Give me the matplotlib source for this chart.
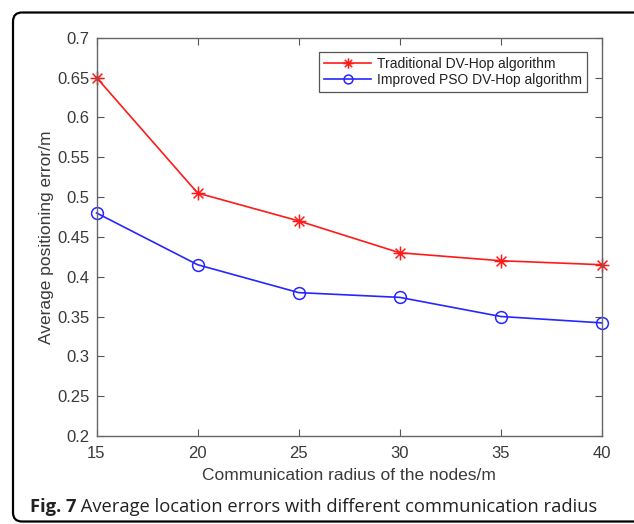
import matplotlib
matplotlib.use("Agg")
import matplotlib.pyplot as plt
from matplotlib.patches import FancyBboxPatch
from matplotlib.path import Path
from matplotlib.transforms import IdentityTransform

# communication radius (m)
radius = [15, 20, 25, 30, 35, 40]

# average positioning error (m)
err_traditional = [0.65, 0.505, 0.47, 0.43, 0.42, 0.415]
err_improved = [0.48, 0.415, 0.38, 0.374, 0.35, 0.342]

y_ticks = [0.2, 0.25, 0.3, 0.35, 0.4, 0.45, 0.5, 0.55, 0.6, 0.65, 0.7]
y_tick_labels = ['0.2', '0.25', '0.3', '0.35', '0.4', '0.45', '0.5', '0.55', '0.6', '0.65', '0.7']
x_ticks = [15, 20, 25, 30, 35, 40]

plt.rcParams['font.family'] = ['Liberation Sans', 'DejaVu Sans']
txt_color = '#3a3a3a'

# matlab style asterisk: plus and cross on top of each other
d = 0.7071
star = Path([(-1, 0), (1, 0), (0, -1), (0, 1), (-d, -d), (d, d), (-d, d), (d, -d)],
            [Path.MOVETO, Path.LINETO] * 4)

fig = plt.figure(figsize=(6.34, 5.24), dpi=100)

# rounded frame around the figure, in pixels, right side runs off the edge
frame = FancyBboxPatch((13, 2.5), 640, 509,
                       boxstyle="round,pad=0,rounding_size=9",
                       transform=IdentityTransform(), fill=False,
                       edgecolor='black', linewidth=1.6, clip_on=False)
fig.patches.append(frame)

ax = fig.add_axes([96.5 / 634, 1 - 436 / 524, (602 - 96.5) / 634, (436 - 37.7) / 524])

ax.plot(radius, err_traditional, color='#ff1a1a', linewidth=1.2, marker=star,
        markersize=10, markeredgewidth=1.1, clip_on=False,
        label='Traditional DV-Hop algorithm')
ax.plot(radius, err_improved, color='#2626ff', linewidth=1.2, marker='o',
        markersize=8.5, markerfacecolor='none', markeredgewidth=1.1, clip_on=False,
        label='Improved PSO DV-Hop algorithm')

ax.set_xlim(15, 40)
ax.set_ylim(0.2, 0.7)
ax.set_xticks(x_ticks)
ax.set_yticks(y_ticks)
ax.set_yticklabels(y_tick_labels)
ax.tick_params(direction='in', length=5, width=0.8, top=True, right=True,
               labelsize=12, colors='#555555', labelcolor=txt_color)
ax.tick_params(axis='x', pad=7)
ax.tick_params(axis='y', pad=5)
for sp in ax.spines.values():
    sp.set_color('#666666')
    sp.set_linewidth(1.0)

ax.set_xlabel('Communication radius of the nodes/m', fontsize=12.5, color=txt_color, labelpad=5)
ax.set_ylabel('Average positioning error/m', fontsize=12.5, color=txt_color, labelpad=2)

leg = ax.legend(loc='upper right', bbox_to_anchor=(0.97, 0.965), borderaxespad=0,
                fontsize=10, fancybox=False, framealpha=1, edgecolor='#555555',
                handlelength=3.4, borderpad=0.35, labelspacing=0.2, handletextpad=0.4,
                markerscale=0.75)
leg.get_frame().set_linewidth(0.9)
for t in leg.get_texts():
    t.set_color('#222222')

# caption: bold "Fig. 7" followed by the regular text
fig_lbl = fig.text(30 / 634, 1 - 507 / 524, 'Fig. 7', fontsize=13.2, va='center', ha='left',
                   family='Open Sans', weight='bold', color='#222222')
ax.annotate(' Average location errors with different communication radius',
            xy=(1, 0.5), xycoords=fig_lbl, va='center', ha='left',
            fontsize=13.2, family='Open Sans', color='#222222', annotation_clip=False)

fig.savefig('out.png', dpi=100)
